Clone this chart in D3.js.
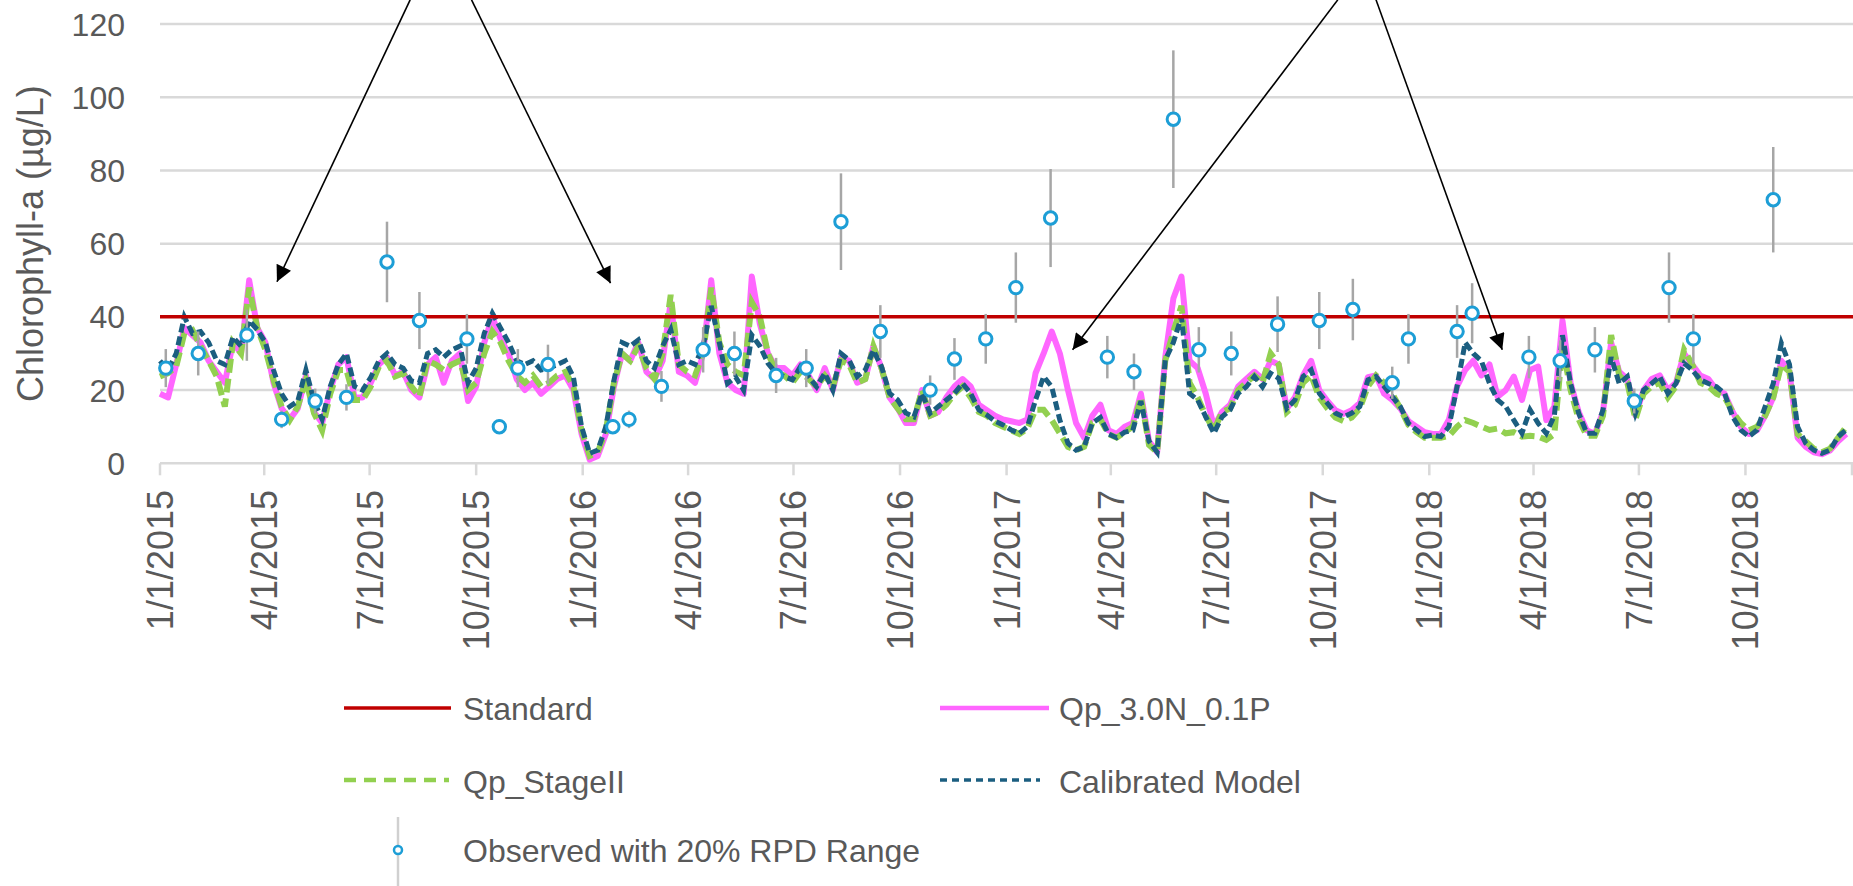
<!DOCTYPE html>
<html><head><meta charset="utf-8">
<script src="https://cdn.jsdelivr.net/npm/d3@7"></script>
<style>
body{margin:0;background:#fff}
svg{display:block}
text{font-family:"Liberation Sans",Arial,sans-serif;fill:#595959}
</style>
</head><body>
<svg id="chart" width="1853" height="886"></svg>
<script>
// ---------------- DATA ----------------
const seriesStart = "2015-01-01";   // first model sample
const seriesStepDays = 7;           // one reading per week

const calibrated = [
28,25.5,30,40,35.5,36,33,28,27,34.5,
32,39,36.5,33,25.5,19,15.5,17,25.5,17,
12,21,27,30,21,20,23.5,28,30,27,
26,22.5,22,30,31,29,31,32,22,26,
35.5,41,37,33,28,27,28,25.5,26,27,
28,23.5,10,2.7,3.6,10,22.7,33,32,33.7,
28,26,32,36.5,27,28,27,32,43,33,
21.8,23.6,20,35,32,27.3,24.6,23.7,22.8,26.4,
23.7,20.9,24.6,20,30,28.2,23.7,25.5,30.9,26.4,
19.1,17.3,13.7,12.7,19.1,13.7,15.5,17.3,19.1,21.8,
19.1,14.6,13.2,11.5,10.5,9.1,8.2,10,17.3,23.7,
20.9,11.8,5.5,3.6,4.5,11,12.5,8,7,8.5,
9,17,6,3,28.2,33,40,19.1,17.3,12.7,
8.2,12.7,14.6,19.1,20.9,23.7,20.9,24.6,23.2,15,
17.3,23.7,25.5,19.1,16.4,13.7,12.7,13.7,15.5,22.8,
23.7,21,18.2,15.5,10.9,9.1,7.3,7.7,7.3,10,
21,33,30,28,21.8,17.3,15.5,11.8,8.2,14.6,
10.9,8.2,13,35,21.8,13.7,8.2,8.2,14.6,29,
21.8,23.7,13.7,20,21.8,23.7,19.1,21.8,27.3,25.5,
22.8,21.8,20.9,19.1,12.7,9.1,7.3,9.1,15.5,21.8,
32.8,27,10,5.5,3.6,2.7,3.6,7.3,9.1];

const stageII = [
23.7,24.6,26.4,35.5,36.4,32,28,23.7,15.5,33,
30,48,37,31,22.8,15.5,11.8,15.5,22.8,13.7,
9,19,25.5,25.5,17.3,17.3,21,26.4,28,23.7,
24.6,21,18.2,28,27,25.5,27,28,20,22,
30,36,33,28,24,22,24,21,22,24,
25,21,9,2,3,9,22,30,28,32,
26,23,30,46,27,25,24,30,48,33,
27,25,24,44,40,30,25,24,22,25,
23,21,24,21,28,27,22,23,32,26,
18,15,12,12,20,13,14,16,19,21,
18,14,13,11,10,9,8,9.5,14.6,14.6,
11.8,8.2,4.5,3.6,4.5,11,12,8,7,8.5,
10,18,5,3,28,36,43,22,18,13,
9,14,15,20,22,24,22,30,27,14,
16,22,24,18,15,12.5,11.5,12.5,15,21,
24,22,19,15,10.5,8.5,7,7,7,7.5,
10,11.8,11,10,9.1,9.5,8.2,8.5,7.3,7.5,
7.3,6.4,8,32,20,12,7.5,7.5,13,35,
24,22,12,19,21,22,18,21,31,27,
22,21,19,18,14,11,9,10,13,18,
27,25,8,6,4,3,4,7,10];

const qp30N01P = [
19,18,27,37,35,33,28,25,22,33,
30,50,37,33,22,15,12,15,24,14,
11,20,27,29,18,18,22,27,29,24,
25,20,18,27,29,22,28,30,17,21,
33,40,34,30,23,20,22,19,21,23,
24,20,8,1,2,8,21,30,28,33,
25,23,28,44,25,24,22,30,50,30,
22,20,19,51,38,30,26,26,24,27,
24,20,26,20,29,28,22,23,32,26,
18,15,11,11,20,13,14,18,21,23,
21,16,14.5,13,12,11.5,11,12,24.6,30,
36,30,20,11,7,13,16,9,8,10,
11,19,6,3,29,45,51,28,26,19,
10,14,16,21,23,25,23,28,27,15,
18,24,28,20,17,14.5,13.5,14.5,16.5,23.5,
24,19,17.3,15,11.5,10,8.5,8,8,12,
21,25.5,28,24,27,18.2,20,23.7,17.3,25.5,
26.4,11.8,15.5,39,22,14,9,8,14,33,
25,23,13,20,23,24,20,22,30,27,
24,23,20,19,14,10,8,9,13,18,
28,25,7,4.5,3,2.5,3.5,6,8];

const standardValue = 40;

const observedDates = [
"2015-01-06","2015-02-03","2015-03-17","2015-04-16","2015-05-15","2015-06-11",
"2015-07-16","2015-08-13","2015-09-23","2015-10-21","2015-11-06","2015-12-02",
"2016-01-27","2016-02-10","2016-03-09","2016-04-14","2016-05-11","2016-06-16",
"2016-07-12","2016-08-11","2016-09-14","2016-10-27","2016-11-17","2016-12-14",
"2017-01-09","2017-02-08","2017-03-29","2017-04-21","2017-05-25","2017-06-16",
"2017-07-14","2017-08-23","2017-09-28","2017-10-27","2017-11-30","2017-12-14",
"2018-01-25","2018-02-07","2018-03-28","2018-04-24","2018-05-24","2018-06-27",
"2018-07-27","2018-08-17","2018-10-25"];
const observedValues = [
26,30,35,12,17,18,
55,39,34,10,26,27,
10,12,21,31,30,24,
26,66,36,20,28.5,34,
48,67,29,25,94,31,
30,38,39,42,22,34,
36,41,29,28,31,17,
48,34,72];
const rpdFraction = 0.2;

const yTickValues = [0,20,40,60,80,100,120];
const xTickDates = ["2015-01-01","2015-04-01","2015-07-01","2015-10-01",
"2016-01-01","2016-04-01","2016-07-01","2016-10-01",
"2017-01-01","2017-04-01","2017-07-01","2017-10-01",
"2018-01-01","2018-04-01","2018-07-01","2018-10-01","2019-01-01"];
const xTickLabels = ["1/1/2015","4/1/2015","7/1/2015","10/1/2015",
"1/1/2016","4/1/2016","7/1/2016","10/1/2016",
"1/1/2017","4/1/2017","7/1/2017","10/1/2017",
"1/1/2018","4/1/2018","7/1/2018","10/1/2018",""];

// annotation arrows (date, value) -> (date, value)
const arrowFromDates = ["2015-08-05","2015-09-27","2017-10-14","2017-11-16"];
const arrowFromValues = [126.6,126.6,126.6,126.6];
const arrowToDates = ["2015-04-12","2016-01-25","2017-02-27","2018-03-05"];
const arrowToValues = [49.6,49.2,31,31];

const legendLabels = ["Standard","Qp_3.0N_0.1P","Qp_StageII","Calibrated Model","Observed with 20% RPD Range"];

// ---------------- CHART ----------------
const W = 1853, H = 886;
const plot = {left:160, right:1852, top:24, bottom:463.3};
const parse = d3.utcParse("%Y-%m-%d");
const svg = d3.select("#chart");

const x = d3.scaleUtc().domain([parse("2015-01-01"), parse("2019-01-01")]).range([plot.left, plot.right]);
const y = d3.scaleLinear().domain([0,120]).range([plot.bottom, plot.top]);

const t0 = parse(seriesStart);
const dateAt = i => d3.utcDay.offset(t0, i*seriesStepDays);

// gridlines
svg.append("g").selectAll("line").data(yTickValues).join("line")
  .attr("x1", plot.left).attr("x2", W)
  .attr("y1", d=>y(d)).attr("y2", d=>y(d))
  .attr("stroke", "#d9d9d9").attr("stroke-width", 2.5);

// y tick labels
svg.append("g").selectAll("text").data(yTickValues).join("text")
  .attr("x", 125).attr("y", d=>y(d)).attr("dy","0.36em")
  .attr("text-anchor","end").attr("font-size", 32).text(d=>d);

// y title
svg.append("text")
  .attr("transform", `translate(32,${(y(120)+y(0))/2}) rotate(-90)`)
  .attr("dy","0.3em").attr("text-anchor","middle").attr("font-size", 36)
  .text("Chlorophyll-a (µg/L)");

// x ticks
const xt = xTickDates.map(parse);
svg.append("g").selectAll("line").data(xt).join("line")
  .attr("x1", d=>x(d)).attr("x2", d=>x(d))
  .attr("y1", plot.bottom).attr("y2", plot.bottom+12)
  .attr("stroke","#d9d9d9").attr("stroke-width",2.5);
svg.append("g").selectAll("text").data(xt).join("text")
  .attr("transform", d=>`translate(${x(d)},490) rotate(-90)`)
  .attr("dy","0.36em").attr("text-anchor","end").attr("font-size",36)
  .text((d,i)=>xTickLabels[i]);

// series lines
const line = d3.line().x((d,i)=>x(dateAt(i))).y(d=>y(d));
svg.append("path").attr("d", line(qp30N01P)).attr("fill","none")
  .attr("stroke","#ff66ff").attr("stroke-width",6).attr("stroke-linejoin","round");
svg.append("path").attr("d", line(stageII)).attr("fill","none")
  .attr("stroke","#92d050").attr("stroke-width",6).attr("stroke-dasharray","14,6");
svg.append("path").attr("d", line(calibrated)).attr("fill","none")
  .attr("stroke","#1b5e80").attr("stroke-width",5).attr("stroke-dasharray","9,4");

// standard
const stdLine = d3.line().x(d=>x(d)).y(()=>y(standardValue));
svg.append("path").attr("d", stdLine([parse("2015-01-01"), parse("2019-01-01")]))
  .attr("stroke","#c00000").attr("stroke-width",3.5).attr("fill","none");
svg.append("line").attr("x1", plot.right).attr("x2", W).attr("y1", y(standardValue)).attr("y2", y(standardValue))
  .attr("stroke","#c00000").attr("stroke-width",3.5);

// observed
const obs = observedDates.map((d,i)=>({date:parse(d), v:observedValues[i]}));
svg.append("g").selectAll("line").data(obs).join("line")
  .attr("x1", d=>x(d.date)).attr("x2", d=>x(d.date))
  .attr("y1", d=>y(d.v*(1+rpdFraction))).attr("y2", d=>y(d.v*(1-rpdFraction)))
  .attr("stroke","#a6a6a6").attr("stroke-width",2.5);
svg.append("g").selectAll("circle").data(obs).join("circle")
  .attr("cx", d=>x(d.date)).attr("cy", d=>y(d.v)).attr("r",6.2)
  .attr("fill","#fff").attr("stroke","#1d9ed6").attr("stroke-width",3);

// arrows
const defs = svg.append("defs");
defs.append("marker").attr("id","ah").attr("viewBox","0 0 10 10")
  .attr("refX",10).attr("refY",5).attr("markerUnits","userSpaceOnUse")
  .attr("markerWidth",20).attr("markerHeight",16).attr("orient","auto")
  .append("path").attr("d","M0,0 L10,5 L0,10 Z").attr("fill","#000");
svg.append("g").selectAll("line").data(arrowFromDates).join("line")
  .attr("x1",(d,i)=>x(parse(d))).attr("y1",(d,i)=>y(arrowFromValues[i]))
  .attr("x2",(d,i)=>x(parse(arrowToDates[i]))).attr("y2",(d,i)=>y(arrowToValues[i]))
  .attr("stroke","#000").attr("stroke-width",1.6).attr("marker-end","url(#ah)");

// legend
const lg = svg.append("g").attr("font-size",32);
function legendLine(x1,x2,yy,color,w,dash){
  lg.append("line").attr("x1",x1).attr("x2",x2).attr("y1",yy).attr("y2",yy)
    .attr("stroke",color).attr("stroke-width",w).attr("stroke-dasharray",dash||null);
}
legendLine(344,451,708,"#c00000",3.5);
lg.append("text").attr("x",463).attr("y",720).text(legendLabels[0]);
legendLine(940,1049,708,"#ff66ff",4.5);
lg.append("text").attr("x",1059).attr("y",720).text(legendLabels[1]);
legendLine(344,449,780,"#92d050",4.5,"12,8");
lg.append("text").attr("x",463).attr("y",793).text(legendLabels[2]);
legendLine(940,1040,780,"#1b5e80",3.5,"7,5");
lg.append("text").attr("x",1059).attr("y",793).text(legendLabels[3]);
lg.append("line").attr("x1",398).attr("x2",398).attr("y1",817).attr("y2",886)
  .attr("stroke","#d0d0d0").attr("stroke-width",2.5);
lg.append("circle").attr("cx",398).attr("cy",850).attr("r",4).attr("fill","#fff")
  .attr("stroke","#1d9ed6").attr("stroke-width",2.5);
lg.append("text").attr("x",463).attr("y",862).text(legendLabels[4]);
</script>
</body></html>
